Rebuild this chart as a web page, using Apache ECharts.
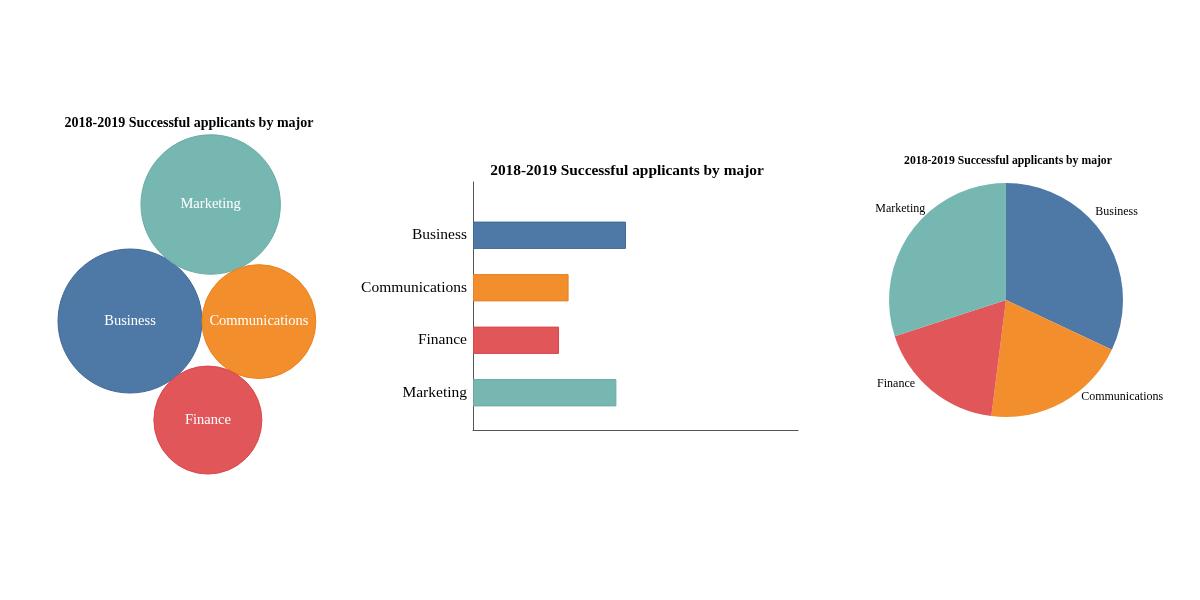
<!DOCTYPE html>
<head>
    <meta charset="utf-8">
    <title>ECharts</title>
    <style>
        html, body { margin: 0; padding: 0; background: #fff; }
    </style>
</head>
<body>
<div id="main" style="width:1200px;height:600px"></div>
<script src="https://cdn.jsdelivr.net/npm/echarts@6/dist/echarts.min.js"></script>
<script type="text/javascript">
    // data
    var majors = ['Business', 'Communications', 'Finance', 'Marketing'];
    var applicants = [16, 10, 9, 15];
    var colors = ['#4E79A7', '#F28E2B', '#E15759', '#76B7B2'];
    var edges = ['#3F6892', '#E98220', '#D9474A', '#6AAAA5'];
    var titleText = '2018-2019 Successful applicants by major';
    var serif = '"Liberation Serif", "Times New Roman", serif';

    // pie label nudges (px), same order as majors
    var pieLabelNudge = [[-23, -20], [9, -14], [-5, -14], [27, -17]];

    // simple bubble packing: biggest first, next ones touch the first and the previous one
    var k = 18;              // px per sqrt(value)
    var firstAngle = -55.3;  // direction of second bubble from the first (deg, screen coords)
    var anchor = [130, 321];

    function touch(a, b, r) {
        var dx = b.x - a.x, dy = b.y - a.y;
        var d = Math.sqrt(dx * dx + dy * dy);
        var da = a.r + r, db = b.r + r;
        var t = (da * da - db * db + d * d) / (2 * d);
        var h = Math.sqrt(Math.max(0, da * da - t * t));
        var ux = dx / d, uy = dy / d;
        return { x: a.x + t * ux - h * uy, y: a.y + t * uy + h * ux };
    }

    var order = majors.map(function (m, i) { return i; })
        .sort(function (a, b) { return applicants[b] - applicants[a]; });
    var placed = [];
    order.forEach(function (idx, n) {
        var r = k * Math.sqrt(applicants[idx]);
        var p;
        if (n === 0) {
            p = { x: 0, y: 0 };
        } else if (n === 1) {
            var a = firstAngle * Math.PI / 180;
            var d = placed[0].r + r;
            p = { x: d * Math.cos(a), y: d * Math.sin(a) };
        } else {
            p = touch(placed[0], placed[n - 1], r);
        }
        placed.push({ idx: idx, x: p.x, y: p.y, r: r });
    });

    var bubbleData = placed.map(function (c) {
        return {
            name: majors[c.idx],
            value: [anchor[0] + c.x, anchor[1] + c.y],
            symbolSize: c.r * 2,
            itemStyle: { color: colors[c.idx], borderColor: edges[c.idx], borderWidth: 1, opacity: 1 }
        };
    });

    var myChart = echarts.init(document.getElementById('main'));
    myChart.setOption({
        animation: false,
        textStyle: { fontFamily: serif },
        title: [
            { text: titleText, left: 184, top: 111, textAlign: 'center',
              textStyle: { fontFamily: serif, fontSize: 14, fontWeight: 'bold', color: '#000' } },
            { text: titleText, left: 622, top: 159, textAlign: 'center',
              textStyle: { fontFamily: serif, fontSize: 15.4, fontWeight: 'bold', color: '#000' } },
            { text: titleText, left: 1003, top: 150, textAlign: 'center',
              textStyle: { fontFamily: serif, fontSize: 11.7, fontWeight: 'bold', color: '#000' } }
        ],
        grid: [
            { left: 0, top: 0, width: 400, height: 600 },
            { left: 473, top: 209, width: 325, height: 210 },
            { left: 473, top: 182, width: 325, height: 248 }
        ],
        xAxis: [
            { gridIndex: 0, type: 'value', min: 0, max: 400, show: false },
            { gridIndex: 1, type: 'value', min: 0, max: 34, show: false },
            { gridIndex: 2, type: 'value', min: 0, max: 1,
              axisLine: { show: true, lineStyle: { color: '#555', width: 1 } },
              axisTick: { show: false }, axisLabel: { show: false }, splitLine: { show: false } }
        ],
        yAxis: [
            { gridIndex: 0, type: 'value', min: 0, max: 600, inverse: true, show: false },
            { gridIndex: 1, type: 'category', data: majors, inverse: true,
              axisLine: { show: false }, axisTick: { show: false },
              axisLabel: { fontFamily: serif, fontSize: 15.5, color: '#000', margin: 6 } },
            { gridIndex: 2, type: 'value', min: 0, max: 1,
              axisLine: { show: true, lineStyle: { color: '#555', width: 1 } },
              axisTick: { show: false }, axisLabel: { show: false }, splitLine: { show: false } }
        ],
        series: [
            {
                type: 'scatter',
                xAxisIndex: 0, yAxisIndex: 0,
                data: bubbleData,
                label: { show: true, position: 'inside', formatter: '{b}',
                         fontFamily: serif, fontSize: 14.5, color: '#fff' }
            },
            {
                type: 'bar',
                xAxisIndex: 1, yAxisIndex: 1,
                barCategoryGap: '48%',
                data: applicants.map(function (v, i) {
                    return { value: v, itemStyle: { color: colors[i], borderColor: edges[i], borderWidth: 1 } };
                })
            },
            {
                type: 'pie',
                center: [1006, 300],
                radius: 117,
                startAngle: 90,
                clockwise: true,
                data: majors.map(function (m, i) {
                    return { name: m, value: applicants[i], itemStyle: { color: colors[i] } };
                }),
                label: { show: true, position: 'outside', formatter: '{b}',
                         fontFamily: serif, fontSize: 12, color: '#000' },
                labelLine: { show: false, length: 10, length2: 0 },
                labelLayout: function (params) {
                    var n = pieLabelNudge[params.dataIndex];
                    return { dx: n[0], dy: n[1] };
                }
            }
        ]
    });
</script>
</body>
